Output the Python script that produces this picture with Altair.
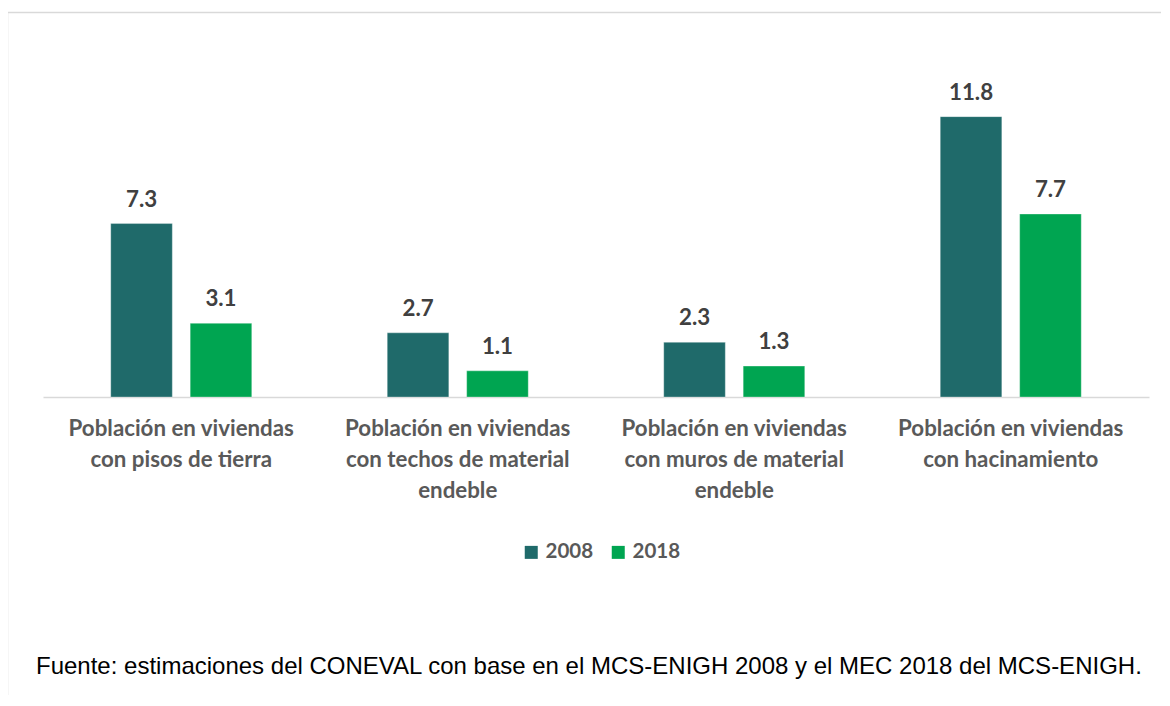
import altair as alt
import pandas as pd

categories = [
    "Población en viviendas|con pisos de tierra",
    "Población en viviendas|con techos de material|endeble",
    "Población en viviendas|con muros de material|endeble",
    "Población en viviendas|con hacinamiento",
]
series = ["2008", "2018"]
values_2008 = [7.3, 2.7, 2.3, 11.8]
values_2018 = [3.1, 1.1, 1.3, 7.7]
colors = ["#1F6A6A", "#00A551"]
footer = "Fuente: estimaciones del CONEVAL con base en el MCS-ENIGH 2008 y el MEC 2018 del MCS-ENIGH."

rows = []
for c, v1, v2 in zip(categories, values_2008, values_2018):
    rows.append({"cat": c, "year": series[0], "val": v1})
    rows.append({"cat": c, "year": series[1], "val": v2})
df = pd.DataFrame(rows)

W, H = 1106, 297
YMAX = 12.5
FS = 22.3

x = alt.X("cat:N", sort=categories, title=None,
          scale=alt.Scale(paddingInner=0.49, paddingOuter=0.245),
          axis=alt.Axis(labelExpr="split(datum.label, '|')", labelAngle=0,
                        labelFont="Lato", labelFontWeight="bold", labelFontSize=FS,
                        labelColor="#595959", labelLineHeight=31, labelPadding=20,
                        labelLimit=0, ticks=False, grid=False,
                        domainColor="#D9D9D9", domainWidth=1.5))
xo = alt.XOffset("year:N", sort=series,
                 scale=alt.Scale(paddingInner=0.225, paddingOuter=0))
y = alt.Y("val:Q", scale=alt.Scale(domain=[0, YMAX]), axis=None)
color = alt.Color("year:N", sort=series,
                  scale=alt.Scale(domain=series, range=colors),
                  legend=alt.Legend(title=None, orient="none", direction="horizontal",
                                    legendX=478, legendY=442,
                                    symbolType="square", symbolSize=169,
                                    symbolStrokeWidth=0, symbolOpacity=1,
                                    labelFont="Lato", labelFontWeight="bold",
                                    labelFontSize=20.5, labelColor="#595959",
                                    columnPadding=14, labelOffset=4))

bars = alt.Chart(df).mark_bar(stroke="#FFFFFF", strokeWidth=0.6, strokeOpacity=0.5).encode(
    x=x, xOffset=xo, y=y, color=color)

labels = alt.Chart(df).mark_text(font="Lato", fontWeight="bold", fontSize=FS,
                                 color="#404040", baseline="alphabetic", dy=-17).encode(
    x=x, xOffset=xo, y=y, text=alt.Text("val:Q", format=".1f"))

foot_df = pd.DataFrame({"t": [footer]})
foot = alt.Chart(foot_df).mark_text(font="Liberation Sans", fontSize=24, color="#000000",
                                    align="left", baseline="alphabetic").encode(
    x=alt.value(-7), y=alt.value(574), text="t:N")

frame_df = pd.DataFrame({"k": [0]})
frame_top = alt.Chart(frame_df).mark_rule(color="#D9D9D9", strokeWidth=1.5).encode(
    x=alt.value(-36), x2=alt.value(W + 20), y=alt.value(-87.5))
frame_left = alt.Chart(frame_df).mark_rule(color="#D9D9D9", strokeWidth=1.5).encode(
    x=alt.value(-35.5), y=alt.value(-88), y2=alt.value(H + 320))

chart = alt.layer(frame_top, frame_left, bars, labels, foot).properties(
    width=W, height=H,
    autosize=alt.AutoSizeParams(type="none"),
    padding={"left": 35, "top": 92, "right": 12, "bottom": 298},
).configure(background="#FFFFFF").configure_view(stroke=None)

chart.save("out.html", embed_options={"renderer": "svg", "actions": False})
